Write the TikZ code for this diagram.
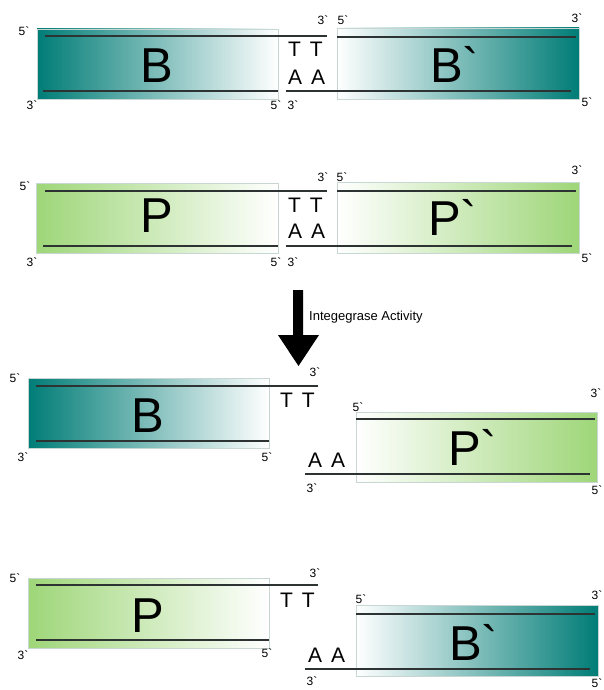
\documentclass[tikz,border=0pt]{standalone}
\usepackage{fontspec}
\newfontfamily\lab{Liberation Sans}
\definecolor{teal1}{RGB}{0,124,118}
\definecolor{green1}{RGB}{158,214,120}
\definecolor{strand}{RGB}{45,50,50}
\definecolor{boxline}{RGB}{200,214,212}
\newcommand{\nsp}{\hspace{0.42em}}
\tikzset{
  sm/.style={font=\lab\fontsize{12}{12}\selectfont, inner sep=0pt},
  nuc/.style={font=\lab\fontsize{21}{21}\selectfont, inner sep=0pt, anchor=base west},
  big/.style={font=\lab\fontsize{49}{49}\selectfont, inner sep=0pt, anchor=base west},
  strandline/.style={draw=strand, line width=1.1pt},
  bbox/.style={draw=boxline, line width=0.7pt},
}
\begin{document}
\begin{tikzpicture}[x=1pt,y=-1pt]
\useasboundingbox (0,0) rectangle (604,690);
% ---------------- Row 1: B / B'
\shade[left color=teal1, right color=white] (37,29) rectangle (278,99);
\draw[bbox] (37,29) rectangle (278,99);
\shade[left color=white, right color=teal1] (337,28) rectangle (579,99);
\draw[bbox] (337,28) rectangle (579,99);
\draw[strandline] (45,36) -- (327,36);
\draw[strandline] (43,91) -- (278,91);
\draw[strandline] (337,37) -- (576,37);
\draw[strandline] (286,91) -- (571,91);
\node[big] (B1) at (140,83) {B};
\node[big] (Bp1) at (430,83) {B`};
\node[nuc] (T1) at (288,57) {T\nsp T};
\node[nuc] (A1) at (288,85) {A\nsp A};
\node[sm] (l1a) at (24,31) {5`};
\node[sm] (l1b) at (32,105) {3`};
\node[sm] (l1c) at (276,105) {5`};
\node[sm] (l1d) at (293,105) {3`};
\node[sm] (l1e) at (323,20) {3`};
\node[sm] (l1f) at (343,20) {5`};
\node[sm] (l1g) at (577,18) {3`};
\node[sm] (l1h) at (587,102) {5`};
% ---------------- Row 2: P / P'
\shade[left color=green1, right color=white] (36,183) rectangle (278,253);
\draw[bbox] (36,183) rectangle (278,253);
\shade[left color=white, right color=green1] (337,182) rectangle (579,253);
\draw[bbox] (337,182) rectangle (579,253);
\draw[strandline] (45,191) -- (327,191);
\draw[strandline] (43,246) -- (278,246);
\draw[strandline] (337,191) -- (576,191);
\draw[strandline] (286,246) -- (572,246);
\node[big] (P2) at (140,232) {P};
\node[big] (Pp2) at (428,235) {P`};
\node[nuc] (T2) at (288,212) {T\nsp T};
\node[nuc] (A2) at (288,238) {A\nsp A};
\node[sm] (l2a) at (25,186) {5`};
\node[sm] (l2b) at (32,262) {3`};
\node[sm] (l2c) at (276,262) {5`};
\node[sm] (l2d) at (293,262) {3`};
\node[sm] (l2e) at (323,177) {3`};
\node[sm] (l2f) at (342,177) {5`};
\node[sm] (l2g) at (577,170) {3`};
\node[sm] (l2h) at (587,258) {5`};
% ---------------- Arrow
\fill[black] (293,290) -- (303,290) -- (303,335) -- (319,335) -- (298.5,366)
  -- (278,335) -- (293,335) -- cycle;
\node[font=\lab\fontsize{13}{13}\selectfont, inner sep=0pt, anchor=west] (act) at (309,317) {Integegrase Activity};
% ---------------- Row 3: B / P'
\shade[left color=teal1, right color=white] (28,378) rectangle (269,448);
\draw[bbox] (28,378) rectangle (269,448);
\shade[left color=white, right color=green1] (356,412) rectangle (597,482);
\draw[bbox] (356,412) rectangle (597,482);
\draw[strandline] (36,386) -- (318,386);
\draw[strandline] (36,441) -- (269,441);
\draw[strandline] (356,419) -- (595,419);
\draw[strandline] (305,474) -- (590,474);
\node[big] (B3) at (131,432) {B};
\node[big] (Pp3) at (448,465) {P`};
\node[nuc] (T3) at (280,407) {T\nsp T};
\node[nuc] (A3) at (308,467) {A\nsp A};
\node[sm] (l3a) at (15,378) {5`};
\node[sm] (l3b) at (23,457) {3`};
\node[sm] (l3c) at (267,457) {5`};
\node[sm] (l3d) at (315,372) {3`};
\node[sm] (l3e) at (358,407) {5`};
\node[sm] (l3f) at (596,393) {3`};
\node[sm] (l3g) at (312,488) {3`};
\node[sm] (l3h) at (597,490) {5`};
% ---------------- Row 4: P / B'
\shade[left color=green1, right color=white] (28,578) rectangle (269,648);
\draw[bbox] (28,578) rectangle (269,648);
\shade[left color=white, right color=teal1] (356,605) rectangle (598,676);
\draw[bbox] (356,605) rectangle (598,676);
\draw[strandline] (36,585) -- (318,585);
\draw[strandline] (36,640) -- (269,640);
\draw[strandline] (356,614) -- (595,614);
\draw[strandline] (305,669) -- (590,669);
\node[big] (P4) at (131,632) {P};
\node[big] (Bp4) at (449,660) {B`};
\node[nuc] (T4) at (280,607) {T\nsp T};
\node[nuc] (A4) at (308,662) {A\nsp A};
\node[sm] (l4a) at (15,578) {5`};
\node[sm] (l4b) at (23,655) {3`};
\node[sm] (l4c) at (267,653) {5`};
\node[sm] (l4d) at (315,573) {3`};
\node[sm] (l4e) at (361,599) {5`};
\node[sm] (l4f) at (597,595) {3`};
\node[sm] (l4g) at (312,681) {3`};
\node[sm] (l4h) at (597,683) {5`};
\end{tikzpicture}
\end{document}
